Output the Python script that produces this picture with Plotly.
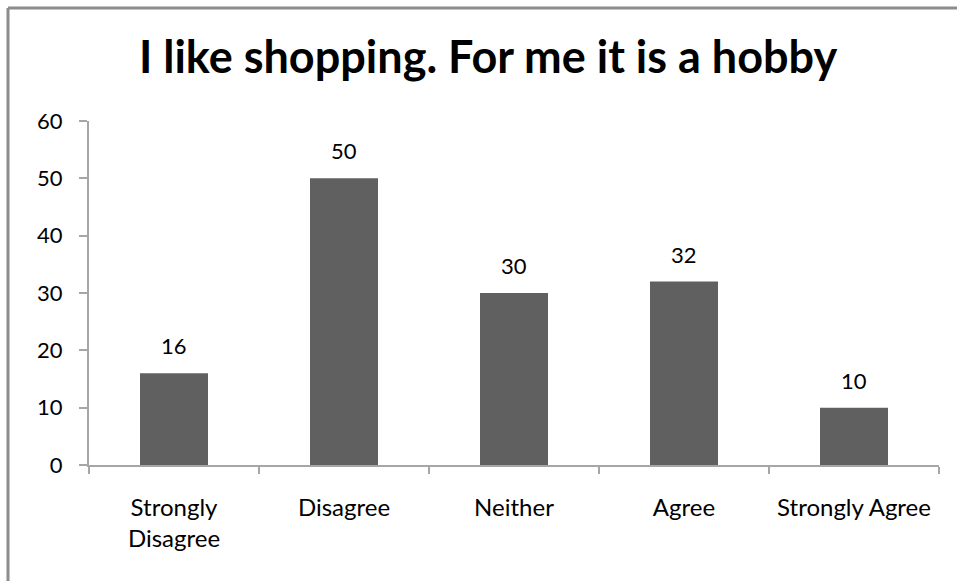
import plotly.graph_objects as go

# Survey responses to "I like shopping. For me it is a hobby"
categories = ["Strongly<br>Disagree", "Disagree", "Neither", "Agree", "Strongly Agree"]
counts = [16, 50, 30, 32, 10]
y_ticks = [0, 10, 20, 30, 40, 50, 60]

FONT = "Lato"
AXIS_GREY = "#a6a6a6"
BAR_GREY = "#606060"

fig = go.Figure(
    go.Bar(
        x=categories,
        y=counts,
        marker=dict(color=BAR_GREY, line=dict(width=0)),
        width=0.4,
        hoverinfo="x+y",
    )
)

# value labels sitting a little above each bar
for cat, val in zip(categories, counts):
    fig.add_annotation(
        x=cat, y=val, text=str(val), showarrow=False,
        xanchor="center", yanchor="bottom", yshift=12,
        font=dict(family=FONT, size=22, color="#000000"),
    )

fig.update_layout(
    width=957,
    height=581,
    margin=dict(l=89, r=18, t=121, b=116),
    paper_bgcolor="white",
    plot_bgcolor="white",
    showlegend=False,
    title=dict(
        text="<b>I like shopping. For me it is a hobby</b>",
        x=0.51,
        xanchor="center",
        y=0.902,
        yanchor="middle",
        font=dict(family=FONT, size=45, color="#000000"),
    ),
    font=dict(family=FONT, size=22, color="#000000"),
    xaxis=dict(
        showline=True,
        linecolor=AXIS_GREY,
        linewidth=2,
        ticks="outside",
        tickson="boundaries",
        ticklen=7,
        tickcolor=AXIS_GREY,
        tickwidth=2,
        tickfont=dict(family=FONT, size=24),
        ticklabelstandoff=20,
        showgrid=False,
        zeroline=False,
    ),
    yaxis=dict(
        range=[0, 60],
        tickvals=y_ticks,
        showline=True,
        linecolor=AXIS_GREY,
        linewidth=2,
        ticks="outside",
        ticklen=8,
        tickcolor=AXIS_GREY,
        tickwidth=2,
        tickfont=dict(family=FONT, size=22),
        ticklabelstandoff=12,
        showgrid=False,
        zeroline=False,
    ),
    shapes=[
        # chart frame: left and top edges
        dict(type="line", xref="paper", yref="paper",
             x0=-81 / 850, x1=-81 / 850, y0=-116 / 344, y1=(344 + 113) / 344,
             line=dict(color="#8c8c8c", width=3)),
        dict(type="line", xref="paper", yref="paper",
             x0=-81 / 850, x1=(850 + 18) / 850, y0=(344 + 113) / 344, y1=(344 + 113) / 344,
             line=dict(color="#8c8c8c", width=3)),
    ],
)

fig.write_html("out.html")
